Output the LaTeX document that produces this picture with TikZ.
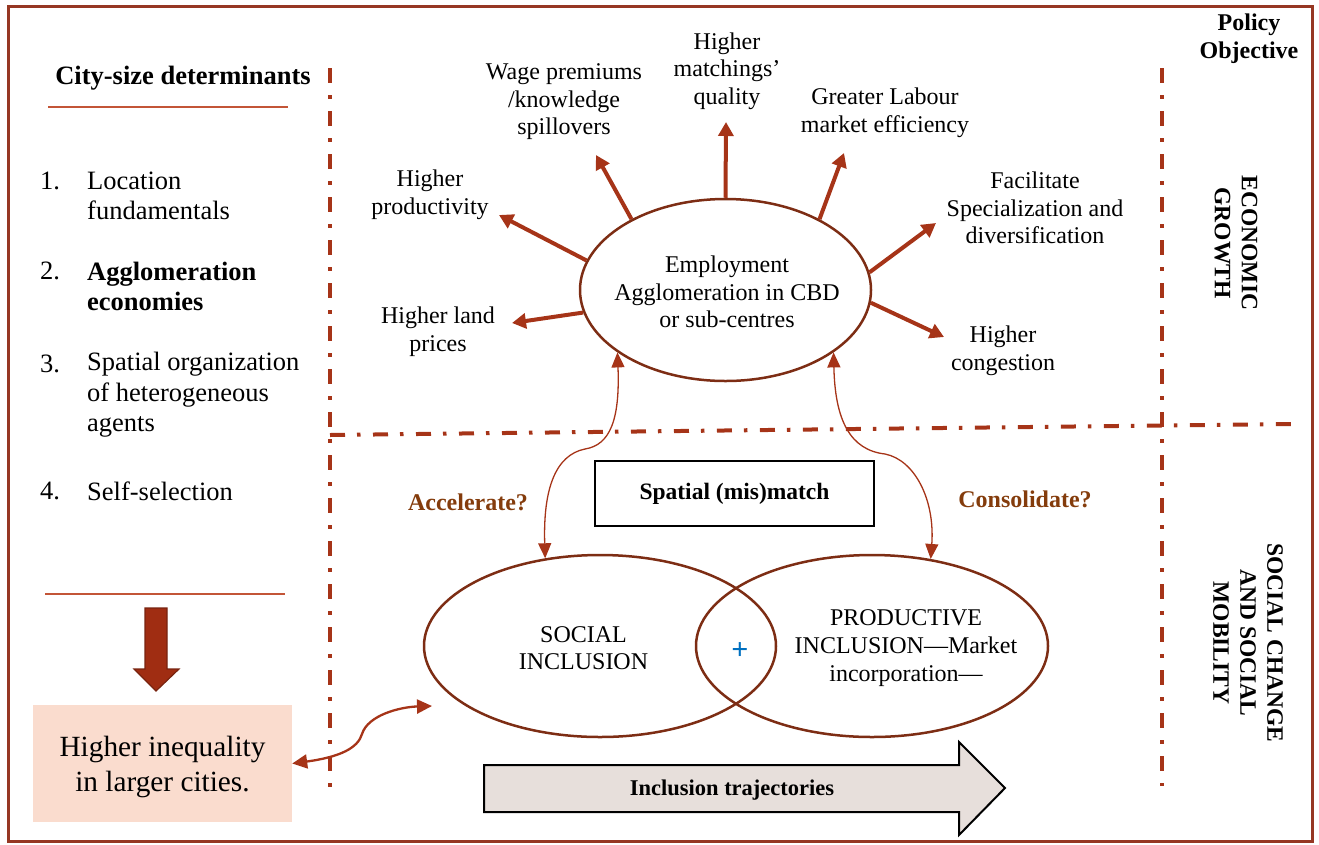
\documentclass[tikz,border=0pt]{standalone}
\usepackage{fontspec}
\setmainfont{Liberation Serif}
\usetikzlibrary{arrows.meta,shapes.geometric}
\definecolor{rust}{RGB}{166,52,24}
\definecolor{ellbrown}{RGB}{125,45,20}
\definecolor{framec}{RGB}{150,55,35}
\definecolor{qbrown}{RGB}{132,60,12}
\definecolor{ulinec}{RGB}{195,85,55}
\definecolor{peach}{RGB}{250,220,206}
\definecolor{trajfill}{RGB}{231,223,219}
\definecolor{plusblue}{RGB}{0,112,192}
\definecolor{darrowfill}{RGB}{160,45,18}
\definecolor{darrowdraw}{RGB}{120,35,15}
\tikzset{
  lbl/.style={font=\fontsize{24}{27.6}\selectfont, align=center, inner sep=0pt},
  listtxt/.style={font=\fontsize{26.5}{30.5}\selectfont, align=left, inner sep=0pt, anchor=west},
  sidehead/.style={font=\bfseries\fontsize{23.5}{27}\selectfont, align=center, inner sep=0pt, rotate=-90},
  dashdot/.style={draw=rust, line width=3.5pt, dash pattern=on 15pt off 12pt on 3.5pt off 12.5pt},
  ray/.style={draw=rust, line width=4pt, -{Triangle[length=14pt,width=15pt]}},
  curvy/.style={draw=rust, line width=1.3pt, {Triangle[length=15pt,width=13pt]}-{Triangle[length=15pt,width=13pt]}},
  ellbox/.style={ellipse, draw=ellbrown, line width=2.5pt, inner sep=0pt},
  uline/.style={draw=ulinec, line width=1.5pt},
  question/.style={font=\bfseries\fontsize{24}{27}\selectfont, text=qbrown, inner sep=0pt}
}
\begin{document}
\begin{tikzpicture}[x=1pt,y=-1pt]
\useasboundingbox (0,0) rectangle (1319,844);
% outer frame
\draw[framec, line width=3pt] (8,6) rectangle (1312,841);

% dash-dot separators
\draw[dashdot] (330,68) -- (330,788);
\draw[dashdot] (1162,68) -- (1162,786);
\draw[dashdot, line width=4pt] (330,435) -- (1292,424);

% left column: determinants
\node[font=\bfseries\fontsize{26.5}{30}\selectfont, inner sep=0pt] (head) at (183,78) {City-size determinants};
\draw[uline] (48,107) -- (288,107);
\node[listtxt] (n1) at (40,181) {1.};
\node[listtxt] (i1) at (87,196) {Location\\fundamentals};
\node[listtxt] (n2) at (40,271) {2.};
\node[listtxt, font=\bfseries\fontsize{26.5}{30.5}\selectfont] (i2) at (87,286.5) {Agglomeration\\economies};
\node[listtxt] (n3) at (40,364) {3.};
\node[listtxt] (i3) at (87,395) {Spatial organization\\of heterogeneous\\agents};
\node[listtxt] (n4) at (40,491) {4.};
\node[listtxt] (i4) at (87,491) {Self-selection};
\draw[uline] (45,594) -- (285,594);

% down arrow
\draw[fill=darrowfill, draw=darrowdraw, line width=1.2pt]
  (145,608) -- (167,608) -- (167,669) -- (179,669) -- (156,691) -- (134,669) -- (145,669) -- cycle;

% inequality box
\node[fill=peach, minimum width=259pt, minimum height=117pt, inner sep=0pt] (ineq) at (162.5,763.5) {};
\node[font=\fontsize{29.3}{35.5}\selectfont, align=center, inner sep=0pt] (ineqtxt) at (162.5,767)
  {Higher inequality\\in larger cities.};

% policy objective column
\node[font=\bfseries\fontsize{24}{28}\selectfont, align=center, inner sep=0pt] (pol) at (1249,39) {Policy\\Objective};
\node[sidehead] (eco) at (1236,243) {ECONOMIC\\GROWTH};
\node[sidehead] (socm) at (1248,643) {SOCIAL CHANGE\\AND SOCIAL\\MOBILITY};

% central employment agglomeration
\node[ellbox, minimum width=291pt, minimum height=182pt] (emp) at (725.5,290) {};
\node[lbl] (emptxt) at (727,292) {Employment\\Agglomeration in CBD\\or sub-centres};

% effects of agglomeration
\node[lbl] (prod) at (430,195) {Higher\\productivity};
\node[lbl] (wage) at (564,102) {Wage premiums\\/knowledge\\spillovers};
\node[lbl] (match) at (727,71) {Higher\\matchings'\\quality};
\node[lbl] (labour) at (885,113) {Greater Labour\\market efficiency};
\node[lbl] (spec) at (1035,208) {Facilitate\\Specialization and\\diversification};
\node[lbl] (cong) at (1003,350.5) {Higher\\congestion};
\node[lbl] (land) at (438,331.5) {Higher land\\prices};

\coordinate (tprod) at (499,215);
\coordinate (twage) at (596,155);
\coordinate (tmatch) at (726,122);
\coordinate (tlab) at (844,153);
\coordinate (tspec) at (936,223);
\coordinate (tcong) at (944,337);
\coordinate (tland) at (512,323);

\draw[ray] (emp.168.6) -- (tprod);
\draw[ray] (emp.143.5) -- (twage);
\draw[ray] (emp.90) -- (tmatch);
\draw[ray] (emp.37) -- (tlab);
\draw[ray] (emp.7.1) -- (tspec);
\draw[ray] (emp.-5.9) -- (tcong);
\draw[ray] (emp.189.2) -- (tland);

% inclusion ellipses
\node[ellbox, minimum width=352pt, minimum height=182pt] (soc) at (600,646) {};
\node[ellbox, minimum width=352pt, minimum height=182pt] (pinc) at (872,646) {};
\node[lbl] (soctxt) at (583.5,648) {SOCIAL\\INCLUSION};
\node[lbl] (pinctxt) at (906,648) {PRODUCTIVE\\INCLUSION---Market\\incorporation---};
\node[text=plusblue, font=\bfseries\fontsize{30}{30}\selectfont, inner sep=0pt] (plus) at (740,651) {+};

% spatial (mis)match
\node[draw=black, line width=2pt, minimum width=279pt, minimum height=65pt, inner sep=0pt,
      font=\bfseries\fontsize{23.5}{27}\selectfont] (spat) at (734.5,493.5) {Spatial (mis)match};
\node[question] (acc) at (468,502) {Accelerate?};
\node[question] (cons) at (1025,499) {Consolidate?};

% two-way links between employment and inclusion
\draw[curvy] (emp.210.6) .. controls (620,420) and (610,445) .. (585,449)
  .. controls (555,455) and (543,490) .. (soc.122);
\draw[curvy] (emp.330) .. controls (835,420) and (850,450) .. (885,454)
  .. controls (915,460) and (935,500) .. (pinc.56);

% link between inequality and social inclusion
\coordinate (tsoc) at (432,706);
\draw[draw=rust, line width=2.3pt, {Triangle[length=15pt,width=14pt]}-{Triangle[length=15pt,width=14pt]}]
  (ineq.east) .. controls (340,757) and (358,748) .. (362,734)
  .. controls (368,715) and (400,707) .. (tsoc);

% inclusion trajectories arrow
\draw[fill=trajfill, draw=black, line width=2pt]
  (484,765) -- (959,765) -- (959,742) -- (1005,788) -- (959,835) -- (959,812) -- (484,812) -- cycle;
\node[font=\bfseries\fontsize{22.5}{26}\selectfont, inner sep=0pt] (traj) at (732,790) {Inclusion trajectories};
\end{tikzpicture}
\end{document}
